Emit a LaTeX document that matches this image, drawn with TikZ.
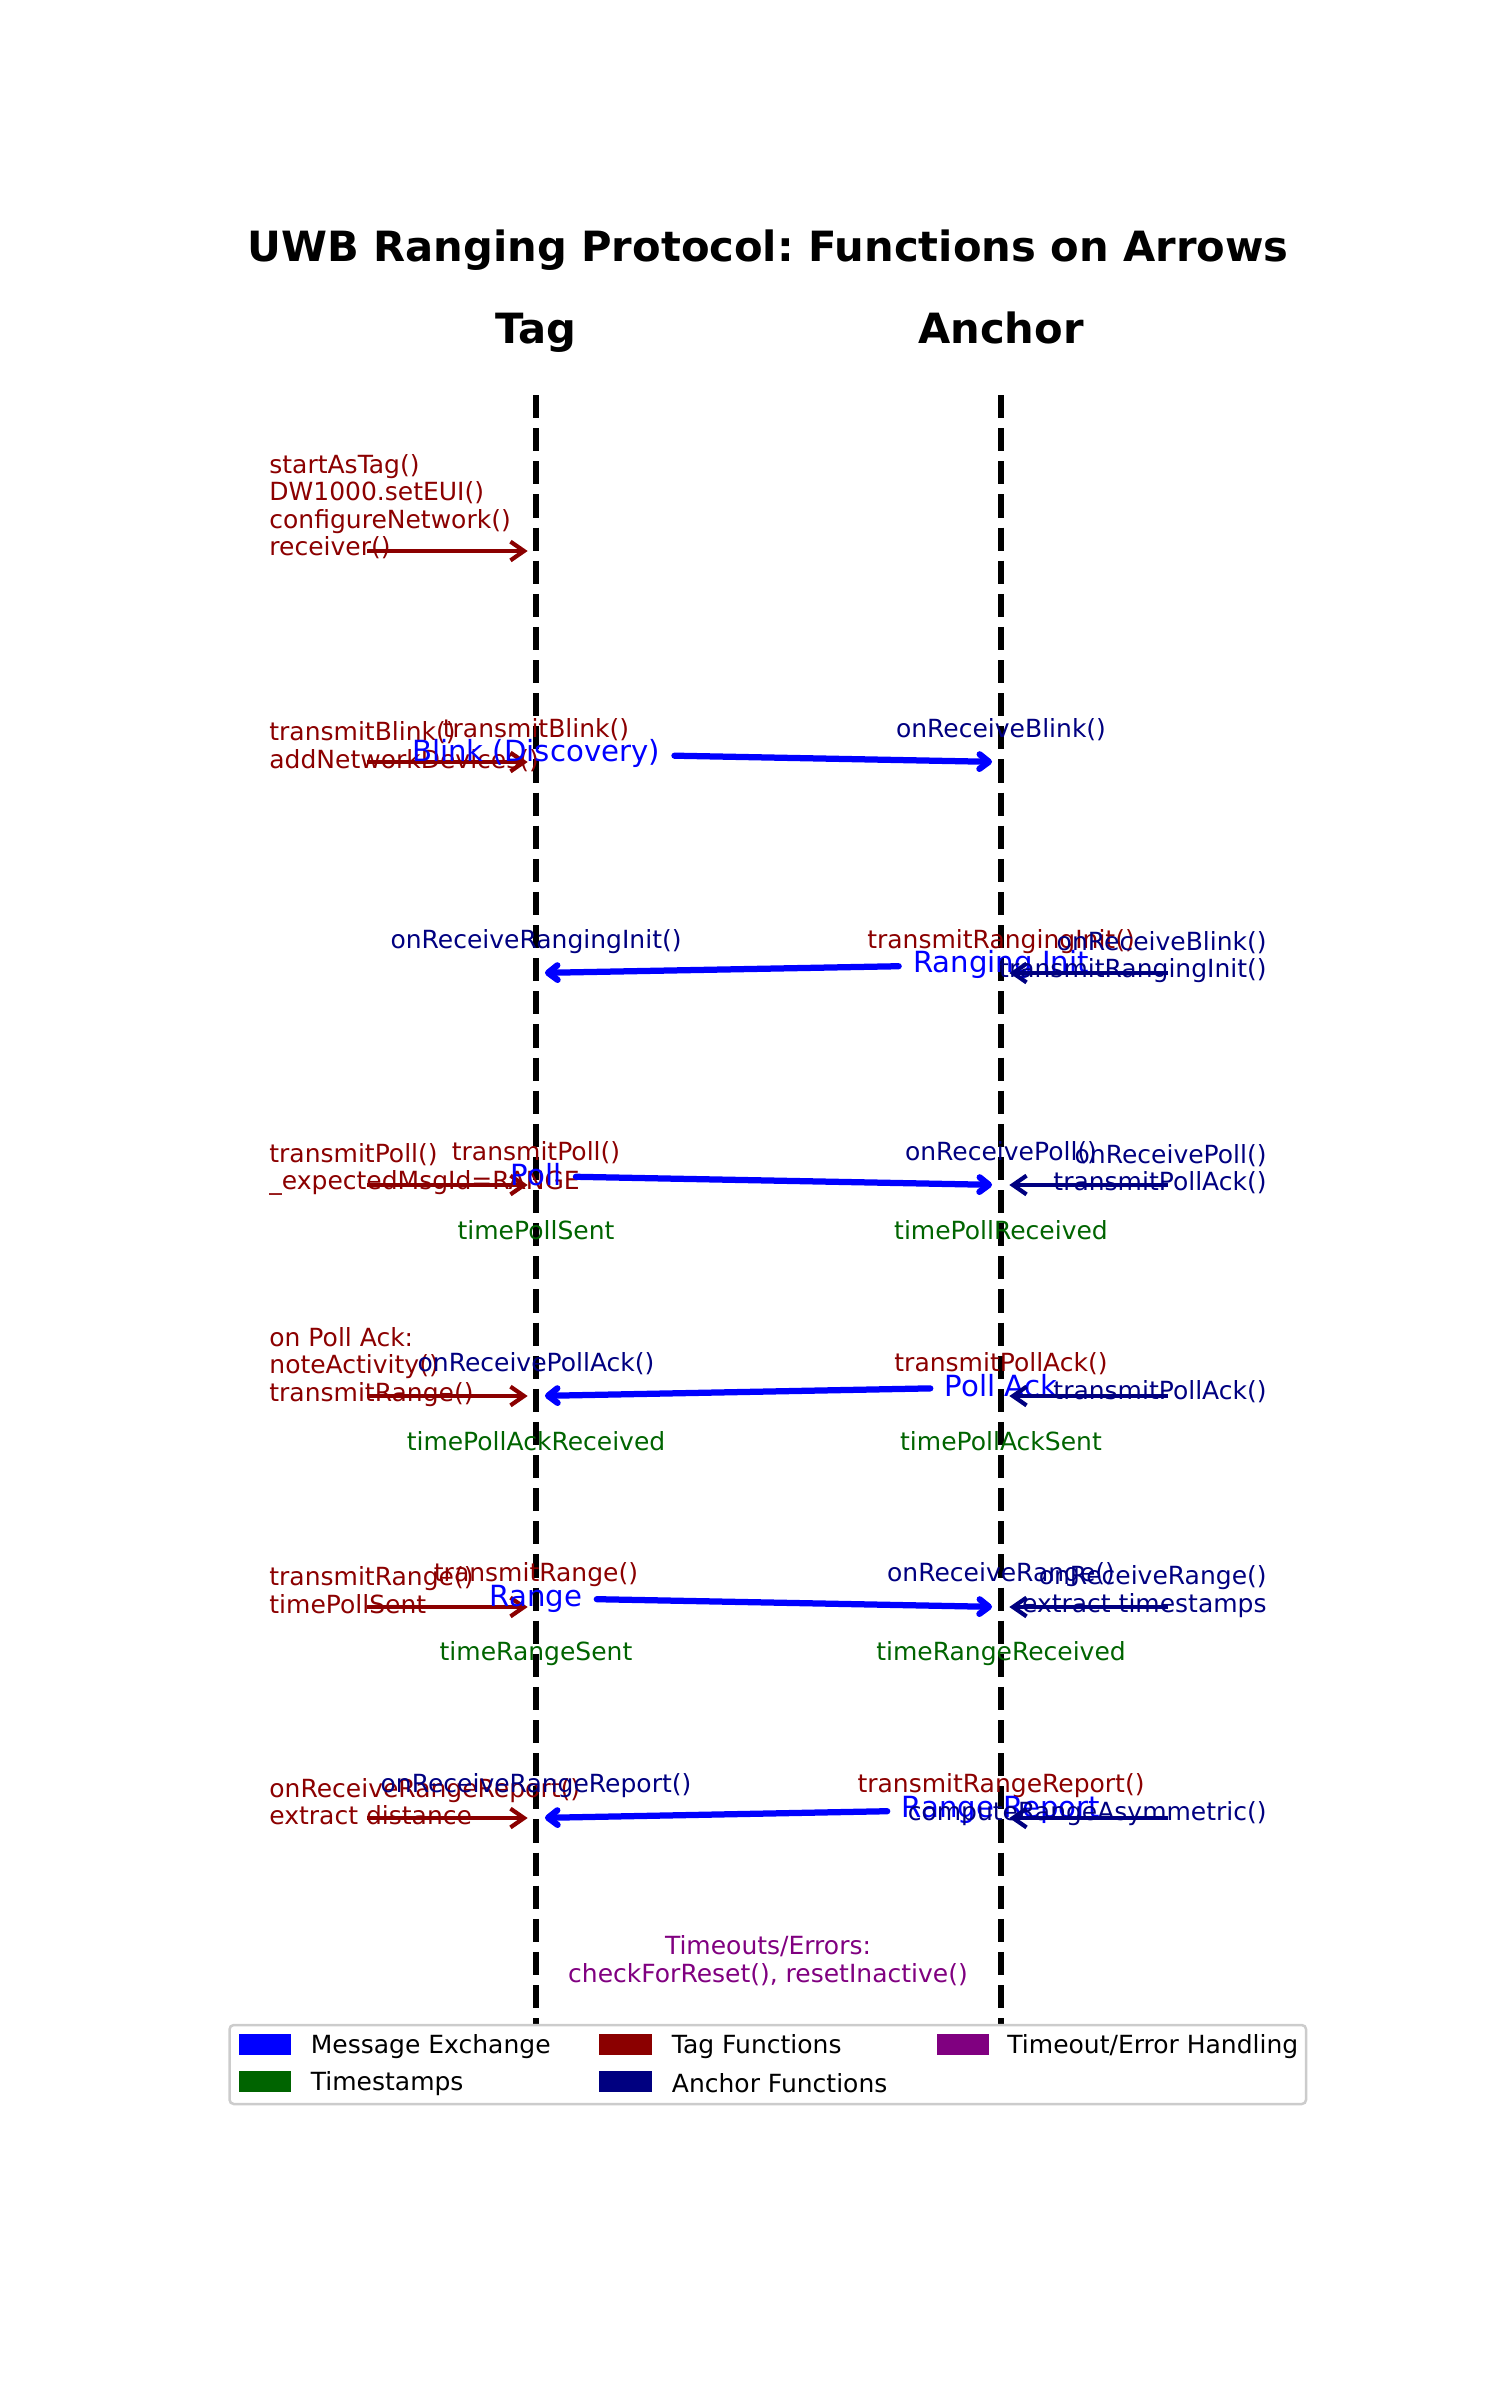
\documentclass[tikz,border=0pt]{standalone}
\usepackage{fontspec}
\setmainfont{DejaVu Sans}
\usetikzlibrary{arrows.meta}
\frenchspacing

\definecolor{msgblue}{HTML}{0000FF}
\definecolor{tagred}{HTML}{8B0000}
\definecolor{ancnavy}{HTML}{000080}
\definecolor{tsgreen}{HTML}{006400}
\definecolor{errpurple}{HTML}{800080}
\definecolor{legedge}{HTML}{CCCCCC}

% invisible strut so every text line has the height and depth of a parenthesis
\newcommand\lnst{\vphantom{(}}

\begin{document}
\begin{tikzpicture}[x=0.48pt,y=-0.48pt]
\tikzset{
  lifeline/.style={line width=3pt, dash pattern=on 11.1pt off 4.8pt},
  fn/.style={font=\fontsize{12}{13.2}\selectfont, inner sep=0pt, yshift=-0.7pt},
  tagfn/.style={fn, text=tagred},
  ancfn/.style={fn, text=ancnavy},
  tsl/.style={fn, text=tsgreen},
  errl/.style={fn, text=errpurple, align=center},
  headl/.style={font=\fontsize{20}{24}\selectfont\bfseries, inner sep=0pt},
  msglbl/.style={font=\fontsize{14}{16}\selectfont, text=msgblue, inner sep=0pt, outer xsep=7pt, outer ysep=0pt},
  msgarrow/.style={draw=msgblue, line width=3pt, line cap=round,
    -{Straight Barb[length=4.5pt,width=7pt,round]}, shorten >=4.3pt},
  callarrow/.style={line width=2pt, -{Straight Barb[length=6.5pt,width=9pt]}, shorten >=4pt},
  legpatch/.style={minimum width=25pt, minimum height=10pt, inner sep=0pt},
  legtxt/.style={font=\fontsize{12}{14}\selectfont, inner sep=0pt, anchor=west, yshift=-1pt},
}
\useasboundingbox (0,0) rectangle (1500,2400);

% ---------- title and participants ----------
\node[headl] (title) at (768,250) {UWB Ranging Protocol: Functions on Arrows};
\node[headl, anchor=base] (tagHead) at (536,343) {Tag};
\node[headl, anchor=base] (ancHead) at (1001,343) {Anchor};

% ---------- lifelines ----------
\coordinate (tagTop) at (536,395);
\coordinate (tagBot) at (536,2025);
\coordinate (ancTop) at (1001,395);
\coordinate (ancBot) at (1001,2025);
\draw[lifeline] (tagTop) -- (tagBot);
\draw[lifeline] (ancTop) -- (ancBot);

% ---------- anchor points on the lifelines ----------
\foreach \k/\e in {1/551,2/762,3/973,4/1185,5/1396,6/1607,7/1818}{
  \coordinate (t\k) at (536,\e);
  \coordinate (a\k) at (1001,\e);
  \coordinate (tL\k) at (367,\e);
  \coordinate (aR\k) at (1168,\e);
}

% ---------- 1: tag start-up ----------
\node[tagfn, anchor=west, align=left] (tagInit) at (269,505.1)
  {\lnst startAsTag()\\\lnst DW1000.setEUI()\\\lnst configureNetwork()\\\lnst receiver()};
\draw[callarrow, tagred] (tL1) -- (t1);

% ---------- 2: blink ----------
\node[tagfn, anchor=west, align=left] (tagBlink) at (269,745.4)
  {\lnst transmitBlink()\\\lnst addNetworkDevices()};
\draw[callarrow, tagred] (tL2) -- (t2);
\node[tagfn] (txBlink) at (536,728.6) {\lnst transmitBlink()};
\node[ancfn] (rxBlink) at (1001,728.6) {\lnst onReceiveBlink()};
\node[msglbl] (msgBlink) at (536,753) {\lnst Blink (Discovery)};
\draw[msgarrow] (msgBlink) -- (a2);

% ---------- 3: ranging init ----------
\node[ancfn] (rxInit) at (536,939.8) {\lnst onReceiveRangingInit()};
\node[tagfn] (txInit) at (1001,939.8) {\lnst transmitRangingInit()};
\node[msglbl] (msgInit) at (1001,964.3) {\lnst Ranging Init};
\draw[msgarrow] (msgInit) -- (t3);
\node[ancfn, anchor=east, align=right] (ancInit) at (1267,955.5)
  {\lnst onReceiveBlink()\\\lnst transmitRangingInit()};
\draw[callarrow, ancnavy] (aR3) -- (a3);

% ---------- 4: poll ----------
\node[tagfn, anchor=west, align=left] (tagPoll) at (269,1167.8)
  {\lnst transmitPoll()\\\lnst \textunderscore expectedMsgId=RANGE};
\draw[callarrow, tagred] (tL4) -- (t4);
\node[tagfn] (txPoll) at (536,1151.4) {\lnst transmitPoll()};
\node[ancfn] (rxPoll) at (1001,1151.4) {\lnst onReceivePoll()};
\node[msglbl] (msgPoll) at (536,1176) {\lnst Poll};
\draw[msgarrow] (msgPoll) -- (a4);
\node[ancfn, anchor=east, align=right] (ancPoll) at (1267,1167.8)
  {\lnst onReceivePoll()\\\lnst transmitPollAck()};
\draw[callarrow, ancnavy] (aR4) -- (a4);
\node[tsl] (tsPollSent) at (536,1230.5) {\lnst timePollSent};
\node[tsl] (tsPollRecv) at (1001,1230.5) {\lnst timePollReceived};

% ---------- 5: poll ack ----------
\node[tagfn, anchor=west, align=left] (tagAck) at (269,1365.3)
  {\lnst on Poll Ack:\\\lnst noteActivity()\\\lnst transmitRange()};
\draw[callarrow, tagred] (tL5) -- (t5);
\node[ancfn] (rxAck) at (536,1362.4) {\lnst onReceivePollAck()};
\node[tagfn] (txAck) at (1001,1362.4) {\lnst transmitPollAck()};
\node[msglbl] (msgAck) at (1001,1387) {\lnst Poll Ack};
\draw[msgarrow] (msgAck) -- (t5);
\node[ancfn, anchor=east] (ancAck) at (1267,1389.8) {\lnst transmitPollAck()};
\draw[callarrow, ancnavy] (aR5) -- (a5);
\node[tsl] (tsAckRecv) at (536,1441.5) {\lnst timePollAckReceived};
\node[tsl] (tsAckSent) at (1001,1441.5) {\lnst timePollAckSent};

% ---------- 6: range ----------
\node[tagfn, anchor=west, align=left] (tagRange) at (269,1590.3)
  {\lnst transmitRange()\\\lnst timePollSent};
\draw[callarrow, tagred] (tL6) -- (t6);
\node[tagfn] (txRange) at (536,1573.4) {\lnst transmitRange()};
\node[ancfn] (rxRange) at (1001,1573.4) {\lnst onReceiveRange()};
\node[msglbl] (msgRange) at (536,1598) {\lnst Range};
\draw[msgarrow] (msgRange) -- (a6);
\node[ancfn, anchor=east, align=right] (ancRange) at (1267,1590.3)
  {\lnst onReceiveRange()\\\lnst extract timestamps};
\draw[callarrow, ancnavy] (aR6) -- (a6);
\node[tsl] (tsRangeSent) at (536,1652.5) {\lnst timeRangeSent};
\node[tsl] (tsRangeRecv) at (1001,1652.5) {\lnst timeRangeReceived};

% ---------- 7: range report ----------
\node[tagfn, anchor=west, align=left] (tagReport) at (269,1801.5)
  {\lnst onReceiveRangeReport()\\\lnst extract distance};
\draw[callarrow, tagred] (tL7) -- (t7);
\node[ancfn] (rxReport) at (536,1784.4) {\lnst onReceiveRangeReport()};
\node[tagfn] (txReport) at (1001,1784.4) {\lnst transmitRangeReport()};
\node[msglbl] (msgReport) at (1001,1809) {\lnst Range Report};
\draw[msgarrow] (msgReport) -- (t7);
\node[ancfn, anchor=east] (ancReport) at (1267,1812) {\lnst computeRangeAsymmetric()};
\draw[callarrow, ancnavy] (aR7) -- (a7);

% ---------- error handling note ----------
\node[errl] (errNote) at (768,1959)
  {\lnst Timeouts/Errors:\\\lnst checkForReset(), resetInactive()};

% ---------- legend ----------
\node[draw=legedge, line width=1.2pt, rounded corners=2pt, fill=white,
      minimum width=516.7pt, minimum height=37.9pt, inner sep=0pt] (legend) at (767.8,2064.5) {};
\node[legpatch, fill=msgblue] (patchMsg) at (264.8,2044.5) {};
\node[legtxt] (legMsg) at (310.5,2044.5) {Message Exchange};
\node[legpatch, fill=tsgreen] (patchTs) at (264.8,2081.5) {};
\node[legtxt] (legTs) at (310.5,2081.5) {Timestamps};
\node[legpatch, fill=tagred] (patchTag) at (625.5,2044.5) {};
\node[legtxt] (legTag) at (671.5,2044.5) {Tag Functions};
\node[legpatch, fill=ancnavy] (patchAnc) at (625.5,2081.5) {};
\node[legtxt] (legAnc) at (671.5,2081.5) {Anchor Functions};
\node[legpatch, fill=errpurple] (patchErr) at (963,2044.5) {};
\node[legtxt] (legErr) at (1007,2044.5) {Timeout/Error Handling};
\end{tikzpicture}
\end{document}
